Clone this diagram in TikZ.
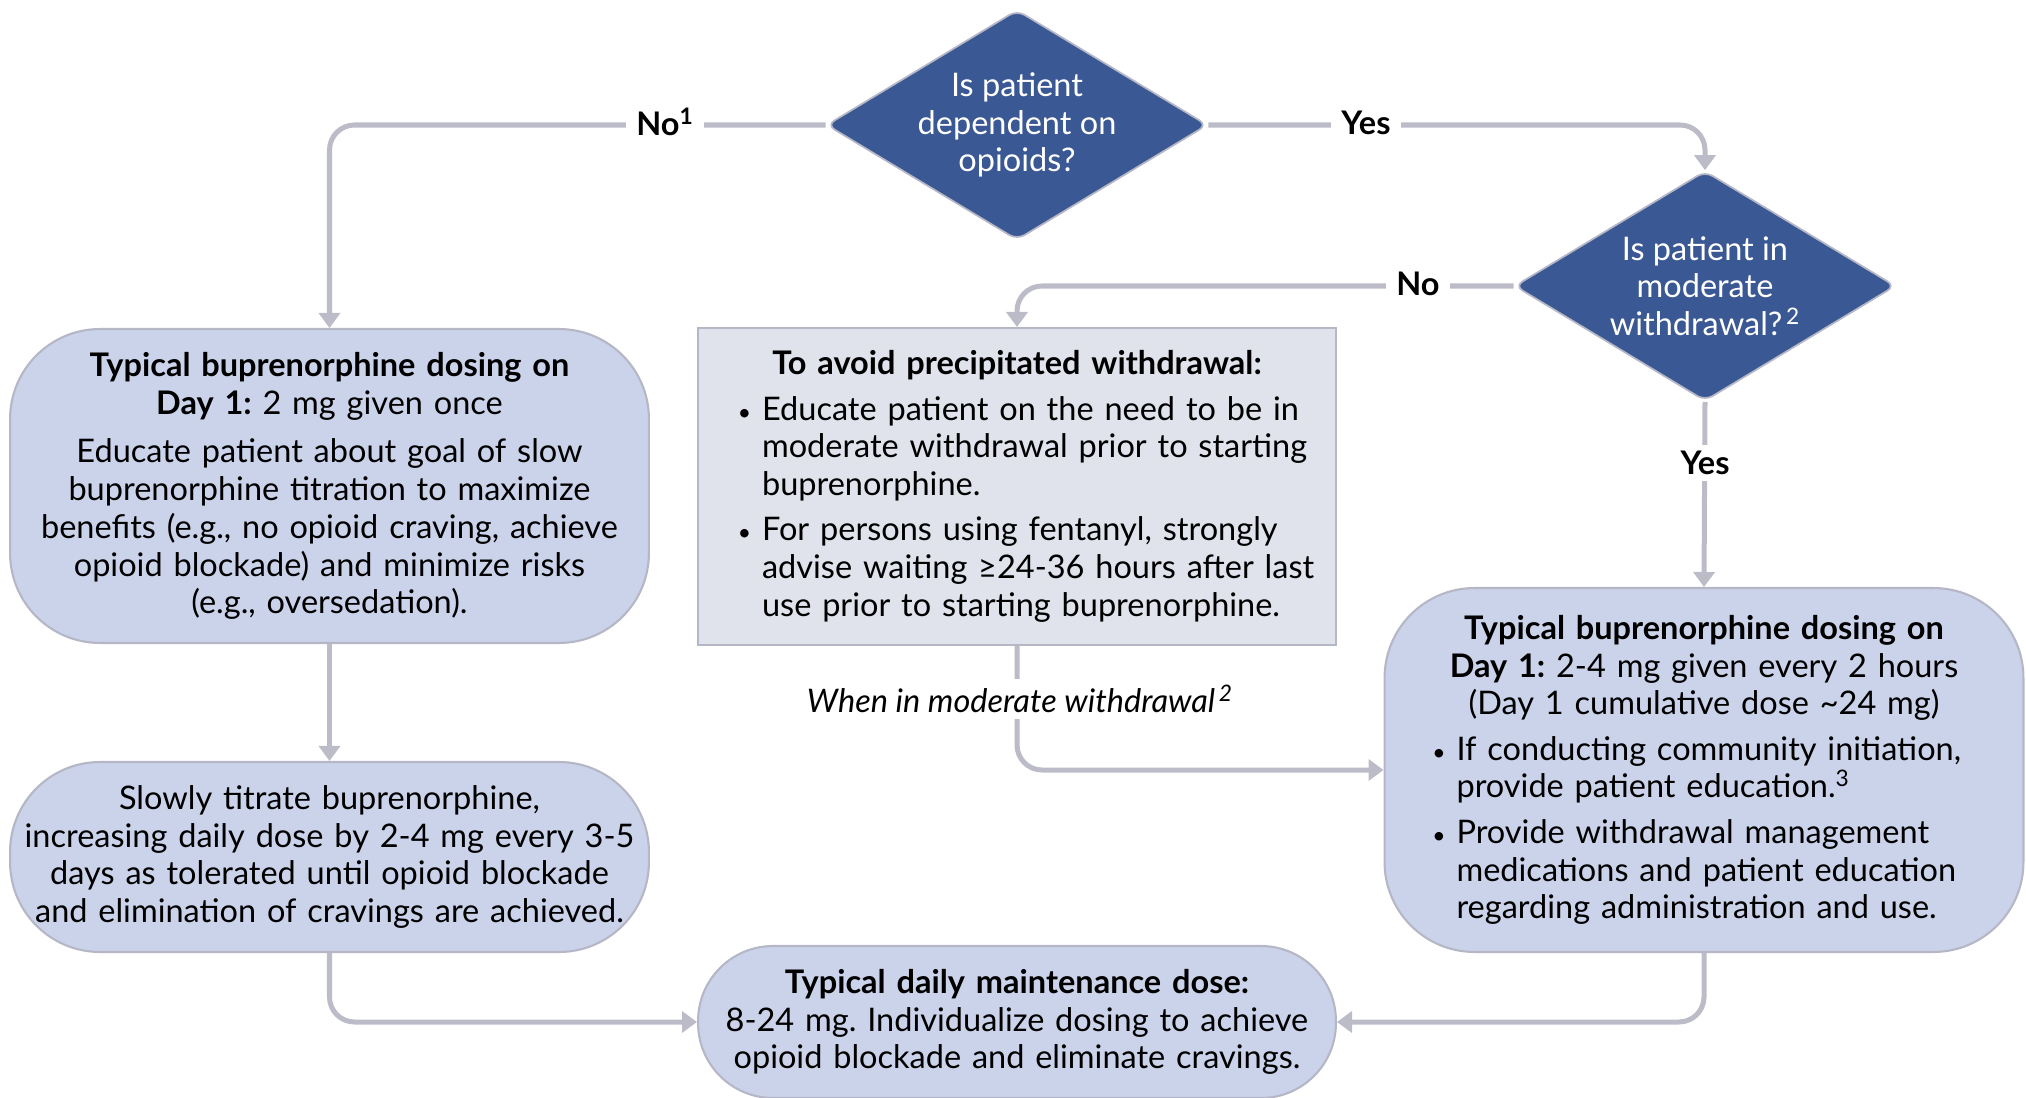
\documentclass[tikz,border=0pt]{standalone}
\usepackage{fontspec}
\setmainfont{Lato}
\usepackage{enumitem}
\usetikzlibrary{shapes.geometric,arrows.meta}

\definecolor{qblue}{HTML}{3A5894}
\definecolor{boxfill}{HTML}{CBD3EA}
\definecolor{greyfill}{HTML}{E0E2EC}
\definecolor{linegrey}{HTML}{BBBCC8}
\definecolor{edgegrey}{HTML}{B5B7C6}

\newcommand{\boxfont}{\fontsize{18.5}{21.5}\selectfont\frenchspacing}
\newlist{dosebullets}{itemize}{1}
\setlist[dosebullets]{label={\fontsize{13}{13}\selectfont\textbullet},leftmargin=0.5cm,labelsep=0.22cm,itemsep=0.15cm,topsep=0.15cm,parsep=0pt,partopsep=0pt}

\begin{document}
\begin{tikzpicture}[x=0.02cm,y=-0.02cm,
	question/.style={diamond,aspect=1.65,fill=qblue,draw=edgegrey,line width=1pt,rounded corners=5pt,
		text=white,minimum width=7.62cm,minimum height=4.6cm,inner sep=0pt,align=center,font=\boxfont},
	roundbox/.style={rectangle,rounded corners=1.8cm,fill=boxfill,draw=edgegrey,line width=1.2pt,
		minimum width=12.78cm,inner sep=0pt,font=\boxfont},
	notebox/.style={rectangle,fill=greyfill,draw=edgegrey,line width=1.2pt,
		minimum width=12.76cm,inner sep=0pt,font=\boxfont},
	conn/.style={draw=linegrey,line width=2.85pt,rounded corners=0.5cm,-{Triangle[width=0.42cm,length=0.3cm]}},
	answer/.style={fill=white,inner xsep=6pt,font=\boxfont\bfseries}]
	
	\useasboundingbox (0,0) rectangle (2026,1098);
	
	% decisions
	\node[question] (q1) at (1017,125) {Is patient\\dependent on\\opioids?};
	\node[question] (q2) at (1705,286) {Is patient in\\moderate\\withdrawal?\textsuperscript{\,2}};
	
	% boxes
	\node[roundbox,minimum height=6.28cm,text width=12.2cm,align=center] (dayA) at (329.5,486) {%
		\textbf{Typical buprenorphine dosing on}\\
		\textbf{Day 1:} 2 mg given once\\[0.22cm]
		Educate patient about goal of slow\\
		buprenorphine titration to maximize\\
		benefits (e.g., no opioid craving, achieve\\
		opioid blockade) and minimize risks\\
		(e.g., oversedation).};
	
	\node[notebox,minimum height=6.34cm,text width=11.9cm,align=left] (avoid) at (1017,486.5) {%
		{\centering\bfseries To avoid precipitated withdrawal:\par}
		\begin{dosebullets}[leftmargin=0.85cm]
			\item Educate patient on the need to be in\\moderate withdrawal prior to starting\\buprenorphine.
			\item For persons using fentanyl, strongly\\advise waiting ≥24-36 hours after last\\use prior to starting buprenorphine.
		\end{dosebullets}};
	
	\node[roundbox,minimum height=7.28cm,text width=10.9cm,align=left] (dayB) at (1704,770) {%
		{\centering\textbf{Typical buprenorphine dosing on}\\
		\textbf{Day 1:} 2-4 mg given every 2 hours\\
		(Day 1 cumulative dose \textasciitilde24 mg)\par}
		\begin{dosebullets}
			\item If conducting community initiation,\\provide patient education.\textsuperscript{3}
			\item Provide withdrawal management\\medications and patient education\\regarding administration and use.
		\end{dosebullets}};
	
	\node[roundbox,minimum height=3.8cm,text width=12.4cm,align=center] (titrate) at (329.5,857) {%
		Slowly titrate buprenorphine,\\
		increasing daily dose by 2-4 mg every 3-5\\
		days as tolerated until opioid blockade\\
		and elimination of cravings are achieved.};
	
	\node[roundbox,rounded corners=1.5cm,minimum width=12.76cm,minimum height=3.04cm,text width=12cm,align=center] (maint) at (1017,1022) {%
		\textbf{Typical daily maintenance dose:}\\
		8-24 mg. Individualize dosing to achieve\\
		opioid blockade and eliminate cravings.};
	
	% connectors
	\draw[conn] (q1.west) -| (dayA.north);
	\draw[conn] (q1.east) -| (q2.north);
	\draw[conn] (q2.west) -| (avoid.north);
	\draw[conn] (q2.south) -- (dayB.north);
	\draw[conn] (avoid.south) |- (dayB.west);
	\draw[conn] (dayA.south) -- (titrate.north);
	\draw[conn] (titrate.south) |- (maint.west);
	\draw[conn] (dayB.south) |- (maint.east);
	
	% answers
	\node[answer] (no1) at (665,122) {No\textsuperscript{1}};
	\node[answer] (yes1) at (1366,123) {Yes};
	\node[answer] (no2) at (1418,284) {No};
	\node[answer] (yes2) at (1705,463) {Yes};
	\node[fill=white,font=\boxfont\itshape] (when) at (1020,699) {When in moderate withdrawal\textsuperscript{\,2}};
	
\end{tikzpicture}
\end{document}
